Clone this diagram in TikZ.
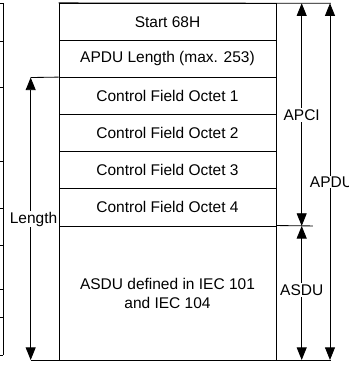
\documentclass[tikz,border=0pt]{standalone}
\usepackage{fontspec}
\setmainfont{Liberation Sans}
\usepackage{tikz}
\usetikzlibrary{arrows.meta,positioning,calc}

\begin{document}
\begin{tikzpicture}[
  field/.style={rectangle, draw, line width=0.8pt, minimum width=7.233cm, minimum height=1.237cm, inner sep=0pt, align=center},
  span/.style={line width=0.8pt, {Triangle[length=12pt,width=9.5pt]}-{Triangle[length=12pt,width=9.5pt]}},
  rule/.style={line width=0.8pt},
  tag/.style={fill=white, inner sep=1pt}
]
  \useasboundingbox (0,0) rectangle (11.633,-12.167);
  \fontsize{14.7pt}{18pt}\selectfont
  % Edge of the neighbouring table
  \draw[rule] (0.1,-0.11) -- (0.1,-11.833);
  \foreach \y in {0.11,1.367,2.9,5.367,6.933,8.167,9.633,10.567,11.833}
    \draw[rule] (0,-\y) -- (0.1,-\y);
  % Frame fields
  \node[field] (start) at (5.583,-0.729) {Start 68H};
  \node[field] (len) at (5.583,-1.966) {APDU Length (max. 253)};
  \node[field] (cf1) at (5.583,-3.203) {Control Field Octet 1};
  \node[field] (cf2) at (5.583,-4.440) {Control Field Octet 2};
  \node[field] (cf3) at (5.583,-5.677) {Control Field Octet 3};
  \node[field] (cf4) at (5.583,-6.914) {Control Field Octet 4};
  \node[field, minimum height=4.468cm] (asdu) at (5.583,-9.766) {ASDU defined in IEC 101\\and IEC 104};
  % Dimension end points
  \coordinate (lentop) at (1.023,-2.584);
  \coordinate (lenbot) at (1.023,-12.0);
  \coordinate (apcitop) at (10.057,-0.11);
  \coordinate (apcibot) at (10.057,-7.532);
  \coordinate (asdubot) at (10.057,-12.0);
  \coordinate (apdutop) at (11.0,-0.11);
  \coordinate (apdubot) at (11.0,-12.0);
  % Extension lines
  \draw[rule] (start.north west) -- (11.03,-0.11);
  \draw[rule] (lenbot) -- (11.03,-12.0);
  \draw[rule] (lentop) -- (cf1.north west);
  \draw[rule] (asdu.north east) -- (10.433,-7.532);
  % Dimensions
  \draw[span] (lentop) -- (lenbot);
  \draw[span] (apcitop) -- (apcibot);
  \draw[span] (apcibot) -- (asdubot);
  \draw[span] (apdutop) -- (apdubot);
  % Dimension labels
  \node[tag] (lenlbl) at (1.117,-7.3) {Length};
  \node[tag] (apcilbl) at (10.057,-3.833) {APCI};
  \node[tag] (asdulbl) at (10.057,-9.667) {ASDU};
  \node[tag] (apdulbl) at (11.05,-6.067) {APDU};
\end{tikzpicture}
\end{document}
